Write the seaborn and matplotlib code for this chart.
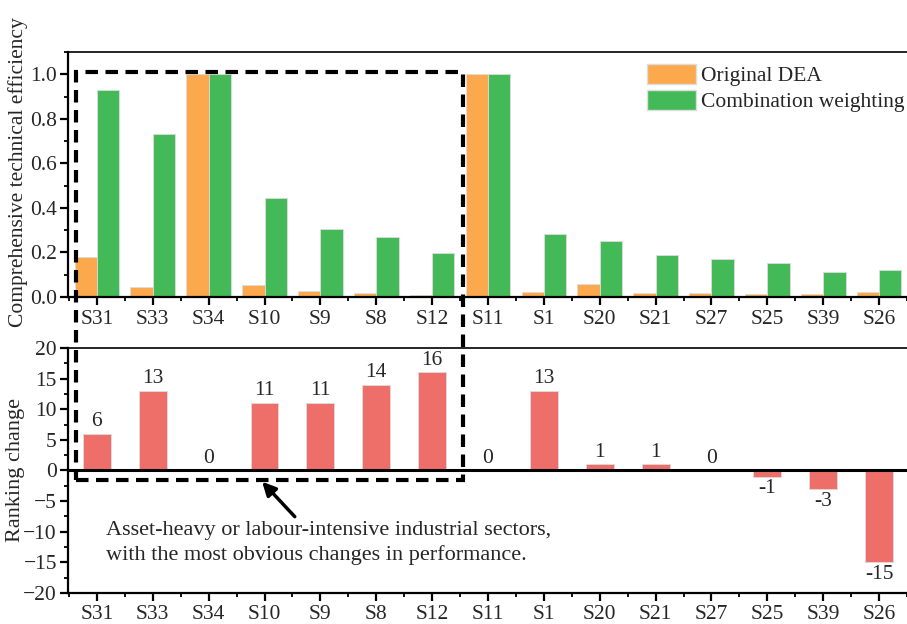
import matplotlib
matplotlib.use("Agg")
import matplotlib.pyplot as plt
from matplotlib.patches import Rectangle, Patch
from matplotlib.ticker import MultipleLocator
import numpy as np
import pandas as pd
import seaborn as sns

# Sectors in display order
sectors = ["S31", "S33", "S34", "S10", "S9", "S8", "S12", "S11",
           "S1", "S20", "S21", "S27", "S25", "S39", "S26"]

# Comprehensive technical efficiency under both approaches
original_dea = [0.18, 0.045, 1.0, 0.055, 0.028, 0.02, 0.01, 1.0,
                0.021, 0.059, 0.019, 0.018, 0.012, 0.012, 0.022]
combination_weighting = [0.928, 0.73, 1.0, 0.445, 0.306, 0.269, 0.198, 1.0,
                         0.284, 0.252, 0.19, 0.17, 0.152, 0.114, 0.122]

# Change in ranking after combination weighting
ranking_change = [6, 13, 0, 11, 11, 14, 16, 0, 13, 1, 1, 0, -1, -3, -15]

series_names = ["Original DEA", "Combination weighting"]
series_colors = ["#FBA94C", "#43BA57"]
bar_red = "#EE6F6A"

eff = pd.DataFrame({
    "sector": sectors * 2,
    "value": original_dea + combination_weighting,
    "method": [series_names[0]] * len(sectors) + [series_names[1]] * len(sectors),
})
rank = pd.DataFrame({"sector": sectors, "change": ranking_change})

sns.set_style("ticks")
plt.rcParams["font.family"] = ["Liberation Serif", "DejaVu Serif"]
plt.rcParams["axes.linewidth"] = 1.6
plt.rcParams["xtick.major.width"] = 1.6
plt.rcParams["ytick.major.width"] = 1.6
plt.rcParams["xtick.minor.width"] = 1.3
plt.rcParams["ytick.minor.width"] = 1.3

fig = plt.figure(figsize=(9.07, 6.24), dpi=100)
ax1 = fig.add_axes([0.075, 0.524, 0.925, 0.3926])
ax2 = fig.add_axes([0.075, 0.050, 0.925, 0.3923])

fs = 15.5

# Upper panel: efficiency
sns.barplot(data=eff, x="sector", y="value", hue="method", order=sectors,
            hue_order=series_names, palette=series_colors, width=0.8,
            edgecolor="#dddddd", linewidth=0.6, saturation=1, ax=ax1,
            legend=False)
ax1.set_ylim(0, 1.1)
ax1.set_xlim(-0.517, 14.34)
ax1.yaxis.set_minor_locator(MultipleLocator(0.1))
ax1.set_yticks(np.arange(0, 1.01, 0.2))
ax1.set_yticklabels([f"{v:.1f}" for v in np.arange(0, 1.01, 0.2)])
ax1.set_xlabel("")
ax1.set_ylabel("Comprehensive technical efficiency", fontsize=15.5)
ax1.yaxis.set_label_coords(-0.048, 0.51)

# Lower panel: ranking change
sns.barplot(data=rank, x="sector", y="change", order=sectors, color=bar_red,
            width=0.5, edgecolor="#dddddd", linewidth=0.6, saturation=1, ax=ax2)
ax2.set_ylim(-20, 20)
ax2.set_xlim(-0.517, 14.34)
ax2.yaxis.set_major_locator(MultipleLocator(5))
ax2.yaxis.set_minor_locator(MultipleLocator(2.5))
ax2.axhline(0, color="black", lw=2.2, zorder=5)
ax2.set_xlabel("")
ax2.set_ylabel("Ranking change", fontsize=16)
ax2.yaxis.set_label_coords(-0.051, 0.5)
for cont in ax2.containers:
    ax2.bar_label(cont, labels=[str(v) for v in ranking_change],
                  fontsize=fs, padding=2)

for ax in (ax1, ax2):
    ax.set_xticks(range(len(sectors)))
    ax.set_xticklabels(sectors)
    ax.set_xticks(np.arange(-0.5, len(sectors), 1.0), minor=True)
    ax.tick_params(axis="both", which="major", direction="out", length=6,
                   labelsize=fs, color="black")
    ax.tick_params(axis="both", which="minor", direction="out", length=3,
                   color="black")
    ax.tick_params(axis="x", which="major", pad=3)
    ax.tick_params(axis="y", which="major", pad=2)
    for s in ("left", "bottom", "top"):
        ax.spines[s].set_visible(True)
        ax.spines[s].set_color("black")
    ax.spines["top"].set_linewidth(1.2)
    ax.spines["right"].set_visible(False)

# Legend
handles = [Patch(facecolor=c, edgecolor="#dddddd", label=n)
           for c, n in zip(series_colors, series_names)]
ax1.legend(handles=handles, loc="upper left", bbox_to_anchor=(0.69, 0.952),
           frameon=False, fontsize=fs, handlelength=2.3, handleheight=1.1,
           handletextpad=0.2, labelspacing=0.15, borderaxespad=0.0,
           borderpad=0.0)

# Dashed box enclosing the sectors with the largest change
box = Rectangle((0.0838, 0.2308), 0.4267, 0.6538, transform=fig.transFigure,
                fill=False, edgecolor="black", lw=3, linestyle=(0, (3, 1.8)),
                zorder=10, clip_on=False)
fig.add_artist(box)

# Note with arrow pointing at the box
fig.text(0.117, 0.130,
         "Asset-heavy or labour-intensive industrial sectors,\n"
         "with the most obvious changes in performance.",
         fontsize=16, ha="left", va="center", linespacing=1.3)
ax2.annotate("", xy=(0.289, 0.228), xytext=(0.325, 0.172),
             xycoords="figure fraction", textcoords="figure fraction",
             arrowprops=dict(arrowstyle="-|>,head_length=0.8,head_width=0.4",
                             lw=2.5, color="black", shrinkA=0, shrinkB=0))

fig.savefig("out.png", dpi=100)
